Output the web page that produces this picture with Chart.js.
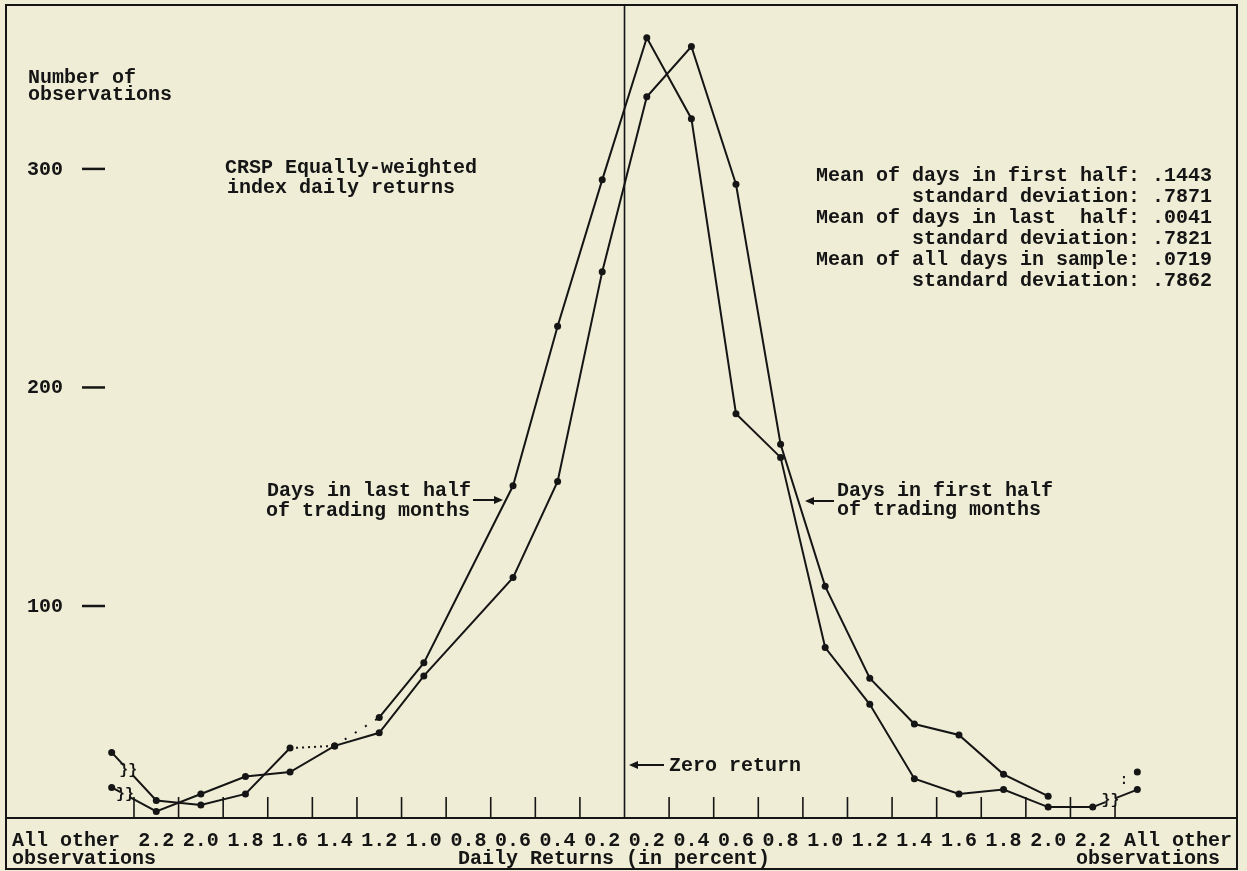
<!DOCTYPE html>
<html>
<head>
<meta charset="utf-8">
<script src="https://cdn.jsdelivr.net/npm/chart.js@4.4.1/dist/chart.umd.min.js"></script>
<style>
  html, body { margin: 0; padding: 0; background: #efedd6; }
  #wrap { width: 1247px; height: 871px; }
</style>
</head>
<body>
<div id="wrap"><canvas id="returnsChart" width="1247" height="871"></canvas></div>
<script>
// Bin centres (percent) and the labels printed under them
const binCenters = [-2.3, -2.1, -1.9, -1.7, -1.5, -1.3, -1.1, -0.9, -0.7, -0.5, -0.3, -0.1,
                    0.1, 0.3, 0.5, 0.7, 0.9, 1.1, 1.3, 1.5, 1.7, 1.9, 2.1, 2.3];
const binLabels = ['All other', '2.2', '2.0', '1.8', '1.6', '1.4', '1.2', '1.0', '0.8', '0.6', '0.4', '0.2',
                   '0.2', '0.4', '0.6', '0.8', '1.0', '1.2', '1.4', '1.6', '1.8', '2.0', '2.2', 'All other'];
// Bin boundaries, marked with small ticks on the axis
const binEdges = [-2.2, -2.0, -1.8, -1.6, -1.4, -1.2, -1.0, -0.8, -0.6, -0.4, -0.2,
                  0.2, 0.4, 0.6, 0.8, 1.0, 1.2, 1.4, 1.6, 1.8, 2.0, 2.2];

// Number of observations per bin
const lastHalf  = [33, 11, 9, 14, 35, 36, 49, 74, null, 155, 228, 295,
                   360, 323, 188, 168, 81, 55, 21, 14, 16, 8, 8, 16];
const firstHalf = [17, 6, 14, 22, 24, 36, 42, 68, null, 113, 157, 253,
                   333, 356, 293, 174, 109, 67, 46, 41, 23, 13, null, 24];

const yTicks = [100, 200, 300];

const statsLines = [
    'Mean of days in first half: .1443',
    'standard deviation: .7871',
    'Mean of days in last  half: .0041',
    'standard deviation: .7821',
    'Mean of all days in sample: .0719',
    'standard deviation: .7862'
];

const INK = '#151515';
const PAPER = '#efedd6';
const FONT = 'bold 20px "Liberation Mono", "Courier New", monospace';

function arrow(ctx, x1, y, x2) {
    const s = Math.sign(x2 - x1);
    ctx.beginPath();
    ctx.moveTo(x1, y);
    ctx.lineTo(x2 - 4 * s, y);
    ctx.stroke();
    ctx.beginPath();
    ctx.moveTo(x2, y);
    ctx.lineTo(x2 - 9 * s, y - 4);
    ctx.lineTo(x2 - 9 * s, y + 4);
    ctx.closePath();
    ctx.fill();
}

function breakMark(ctx, xs, ys, data, i0, i1, t) {
    const xa = xs.getPixelForValue(binCenters[i0]), ya = ys.getPixelForValue(data[i0]);
    const xb = xs.getPixelForValue(binCenters[i1]), yb = ys.getPixelForValue(data[i1]);
    const x = xa + (xb - xa) * t, y = ya + (yb - ya) * t;
    ctx.fillStyle = PAPER;
    ctx.fillRect(x - 5, y - 6, 10, 12);
    ctx.fillStyle = INK;
    ctx.font = 'bold 15px "Liberation Mono", monospace';
    ctx.textAlign = 'center';
    ctx.textBaseline = 'middle';
    ctx.fillText('}}', x, y);
}

const framePlugin = {
    id: 'frame',
    beforeDatasetsDraw(chart) {
        const { ctx, chartArea: a, scales: { x } } = chart;
        ctx.save();
        ctx.strokeStyle = INK;
        // outer box, including label band
        ctx.lineWidth = 2;
        ctx.strokeRect(a.left, a.top, a.right - a.left, 869 - a.top);
        ctx.beginPath();
        ctx.moveTo(a.left, a.bottom);
        ctx.lineTo(a.right, a.bottom);
        ctx.stroke();
        // zero-return line
        const x0 = x.getPixelForValue(0);
        ctx.lineWidth = 1.6;
        ctx.beginPath();
        ctx.moveTo(x0, a.top);
        ctx.lineTo(x0, a.bottom);
        ctx.stroke();
        // bin boundary ticks
        binEdges.forEach(e => {
            const px = x.getPixelForValue(e);
            ctx.beginPath();
            ctx.moveTo(px, a.bottom);
            ctx.lineTo(px, a.bottom - 21);
            ctx.stroke();
        });
        ctx.restore();
    },
    afterDatasetsDraw(chart) {
        const { ctx, scales: { x, y } } = chart;
        ctx.save();
        breakMark(ctx, x, y, lastHalf, 0, 1, 0.37);
        breakMark(ctx, x, y, firstHalf, 0, 1, 0.3);
        breakMark(ctx, x, y, lastHalf, 22, 23, 0.4);
        ctx.fillStyle = INK;
        ctx.font = 'bold 14px "Liberation Mono", monospace';
        ctx.fillText(':', 1124, 780);
        ctx.restore();
    },
    afterDraw(chart) {
        const { ctx, scales: { x, y } } = chart;
        ctx.save();
        ctx.fillStyle = INK;
        ctx.strokeStyle = INK;
        ctx.font = FONT;
        ctx.textBaseline = 'alphabetic';

        // y-axis caption and ticks
        ctx.textAlign = 'left';
        ctx.fillText('Number of', 28, 83);
        ctx.fillText('observations', 28, 100);
        ctx.lineWidth = 2.5;
        yTicks.forEach(v => {
            const py = y.getPixelForValue(v);
            ctx.fillText(String(v), 27, py + 6);
            ctx.beginPath();
            ctx.moveTo(82, py);
            ctx.lineTo(105, py);
            ctx.stroke();
        });

        // title
        ctx.fillText('CRSP Equally-weighted', 225, 173);
        ctx.fillText('index daily returns', 227, 193);

        // summary statistics
        ctx.textAlign = 'right';
        statsLines.forEach((s, i) => ctx.fillText(s, 1212, 181 + i * 21));

        // series annotations
        ctx.lineWidth = 2;
        ctx.fillText('Days in last half', 471, 496);
        ctx.fillText('of trading months', 470, 516);
        arrow(ctx, 473, 500, 503);
        ctx.textAlign = 'left';
        ctx.fillText('Days in first half', 837, 496);
        ctx.fillText('of trading months', 837, 515);
        arrow(ctx, 834, 501, 805);
        ctx.fillText('Zero return', 669, 771);
        arrow(ctx, 664, 765, 629);

        // x-axis labels
        binLabels.forEach((lab, i) => {
            if (lab === 'All other') return;
            ctx.textAlign = 'center';
            ctx.fillText(lab, x.getPixelForValue(binCenters[i]), 846);
        });
        ctx.textAlign = 'left';
        ctx.fillText('All other', 12, 846);
        ctx.fillText('observations', 12, 864);
        ctx.fillText('Daily Returns (in percent)', 458, 864);
        ctx.textAlign = 'right';
        ctx.fillText('All other', 1232, 846);
        ctx.fillText('observations', 1220, 864);
        ctx.restore();
    }
};

const pts = arr => binCenters.map((c, i) => ({ x: c, y: arr[i] }));

new Chart(document.getElementById('returnsChart'), {
    type: 'line',
    data: {
        datasets: [
            {
                label: 'Days in last half of trading months',
                data: pts(lastHalf),
                borderColor: INK,
                backgroundColor: INK,
                borderWidth: 2,
                pointRadius: 3.5,
                pointBorderWidth: 0,
                tension: 0,
                spanGaps: true,
                segment: {
                    borderDash: c => c.p0DataIndex === 4 ? [2, 4] : (c.p0DataIndex === 5 ? [2, 10] : undefined)
                }
            },
            {
                label: 'Days in first half of trading months',
                data: pts(firstHalf),
                borderColor: INK,
                backgroundColor: INK,
                borderWidth: 2,
                pointRadius: 3.5,
                pointBorderWidth: 0,
                tension: 0,
                spanGaps: true,
                segment: {
                    // the right-hand "All other" point stands alone
                    borderColor: c => (c.p0DataIndex > 12 && firstHalf[c.p0DataIndex] === null) ? 'rgba(0,0,0,0)' : undefined
                }
            }
        ]
    },
    options: {
        responsive: false,
        animation: false,
        layout: { padding: { left: 6, top: 5, right: 10, bottom: 53 } },
        scales: {
            x: { type: 'linear', min: -2.774, max: 2.747, display: false },
            y: { type: 'linear', min: 3, max: 375, display: false }
        },
        plugins: {
            legend: { display: false },
            tooltip: { enabled: false }
        }
    },
    plugins: [framePlugin]
});
</script>
</body>
</html>
